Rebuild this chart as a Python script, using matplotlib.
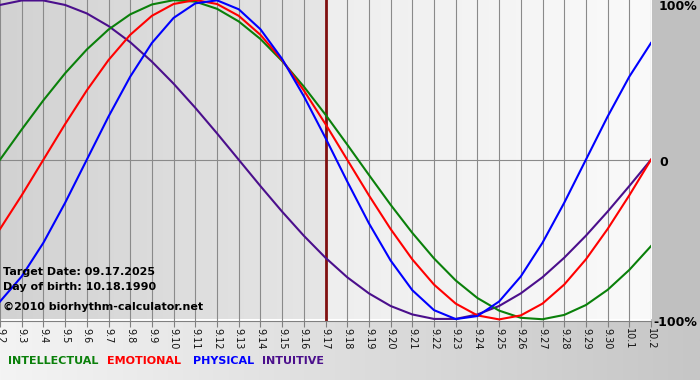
import matplotlib.pyplot as plt
import numpy as np
from matplotlib.colors import LinearSegmentedColormap

# Dias mostrados en el eje x (9.2 ... 10.2)
days = ["9.2", "9.3", "9.4", "9.5", "9.6", "9.7", "9.8", "9.9", "9.10", "9.11",
        "9.12", "9.13", "9.14", "9.15", "9.16", "9.17", "9.18", "9.19", "9.20",
        "9.21", "9.22", "9.23", "9.24", "9.25", "9.26", "9.27", "9.28", "9.29",
        "9.30", "10.1", "10.2"]
target_day = "9.17"

# Valores en %
intellectual = [0.0, 18.9, 37.2, 54.1, 69.0, 81.5, 91.0, 97.2, 99.9, 99.0,
                94.5, 86.6, 75.6, 61.8, 45.8, 28.2, 9.5, -9.5, -28.2, -45.8,
                -61.8, -75.6, -86.6, -94.5, -99.0, -99.9, -97.2, -91.0, -81.5,
                -69.0, -54.1]
emotional = [-43.4, -22.3, 0.0, 22.3, 43.4, 62.4, 78.2, 90.1, 97.5, 100.0,
             97.5, 90.1, 78.2, 62.4, 43.4, 22.3, 0.0, -22.3, -43.4, -62.4,
             -78.2, -90.1, -97.5, -100.0, -97.5, -90.1, -78.2, -62.4, -43.4,
             -22.3, 0.0]
physical = [-88.8, -73.1, -52.0, -27.0, 0.0, 27.0, 52.0, 73.1, 88.8, 97.9,
            99.8, 94.2, 81.7, 63.1, 39.8, 13.6, -13.6, -39.8, -63.1, -81.7,
            -94.2, -99.8, -97.9, -88.8, -73.1, -52.0, -27.0, 0.0, 27.0, 52.0,
            73.1]
intuitive = [96.9, 99.7, 99.7, 96.9, 91.6, 83.7, 73.6, 61.4, 47.6, 32.5,
             16.5, 0.0, -16.5, -32.5, -47.6, -61.4, -73.6, -83.7, -91.6,
             -96.9, -99.7, -99.7, -96.9, -91.6, -83.7, -73.6, -61.4, -47.6,
             -32.5, -16.5, 0.0]

c_int = "#0a800a"
c_emo = "#ff0000"
c_phy = "#0000ff"
c_itu = "#4b0f8c"

W, H = 700, 380
fig = plt.figure(figsize=(W / 100, H / 100), dpi=100)

# fondo de la figura (degradado abajo, gris a la derecha)
bg = fig.add_axes([0, 0, 1, 1], zorder=-5)
bg.imshow(np.linspace(0, 1, 256).reshape(1, -1), aspect="auto",
          extent=[0, 1, 0, 1],
          cmap=LinearSegmentedColormap.from_list("b", ["#f4f4f4", "#c6c6c6"]))
bg.add_patch(plt.Rectangle((651 / W, 1 - 321 / H), 1, 1, color="#c0c0c0"))
bg.set_xlim(0, 1)
bg.set_ylim(0, 1)
bg.axis("off")

ax = fig.add_axes([0, 1 - 321 / H, 651 / W, 321 / H])
x = np.arange(len(days))
tx = days.index(target_day)

left_cm = LinearSegmentedColormap.from_list("l", ["#d2d2d2", "#e6e6e6"])
right_cm = LinearSegmentedColormap.from_list("r", ["#eeeeee", "#fafafa"])
grad = np.linspace(0, 1, 256).reshape(1, -1)
ax.imshow(grad, extent=[0, tx, -100, 100], aspect="auto", cmap=left_cm, zorder=0)
ax.imshow(grad, extent=[tx, len(days) - 1, -100, 100], aspect="auto", cmap=right_cm, zorder=0)

for xi in x:
    ax.axvline(xi, color="#8a8a8a", lw=0.8, zorder=1)
ax.axhline(0, color="#8a8a8a", lw=0.8, zorder=1)
ax.axvline(tx, color="#801010", lw=2, zorder=2)

ax.plot(x, intuitive, color=c_itu, lw=1.5, zorder=3, solid_joinstyle="round")
ax.plot(x, intellectual, color=c_int, lw=1.5, zorder=3, solid_joinstyle="round")
ax.plot(x, emotional, color=c_emo, lw=1.5, zorder=3, solid_joinstyle="round")
ax.plot(x, physical, color=c_phy, lw=1.5, zorder=3, solid_joinstyle="round")

ax.set_xlim(0, len(days) - 1)
ax.set_ylim(-101, 100)
ax.set_xticks(x)
ax.set_xticklabels(days, rotation=270, fontsize=7, color="#111111")
ax.tick_params(axis="x", length=4, color="#808080", pad=1)
ax.set_yticks([])
for s in ["top", "left", "right"]:
    ax.spines[s].set_visible(False)
ax.spines["bottom"].set_color("#808080")

# etiquetas de la derecha
fig.text(659 / W, 1 - 7 / H, "100%", fontsize=9, weight="bold", va="center")
fig.text(659 / W, 1 - 162 / H, "0", fontsize=9, weight="bold", va="center")
fig.text(653 / W, 1 - 322 / H, "-100%", fontsize=9, weight="bold", va="center")

# textos de informacion
fig.text(3 / W, 1 - 272 / H, "Target Date: 09.17.2025", fontsize=8, weight="bold", va="center")
fig.text(3 / W, 1 - 287 / H, "Day of birth: 10.18.1990", fontsize=8, weight="bold", va="center")
fig.text(3 / W, 1 - 307 / H, "\u00a92010 biorhythm-calculator.net", fontsize=8, weight="bold", va="center")

# leyenda
for xp, txt, col in [(8, "INTELLECTUAL", c_int), (107, "EMOTIONAL", c_emo),
                     (193, "PHYSICAL", c_phy), (262, "INTUITIVE", c_itu)]:
    fig.text(xp / W, 1 - 361 / H, txt, fontsize=8, weight="bold", color=col, va="center")

fig.savefig("out.png", dpi=100)
